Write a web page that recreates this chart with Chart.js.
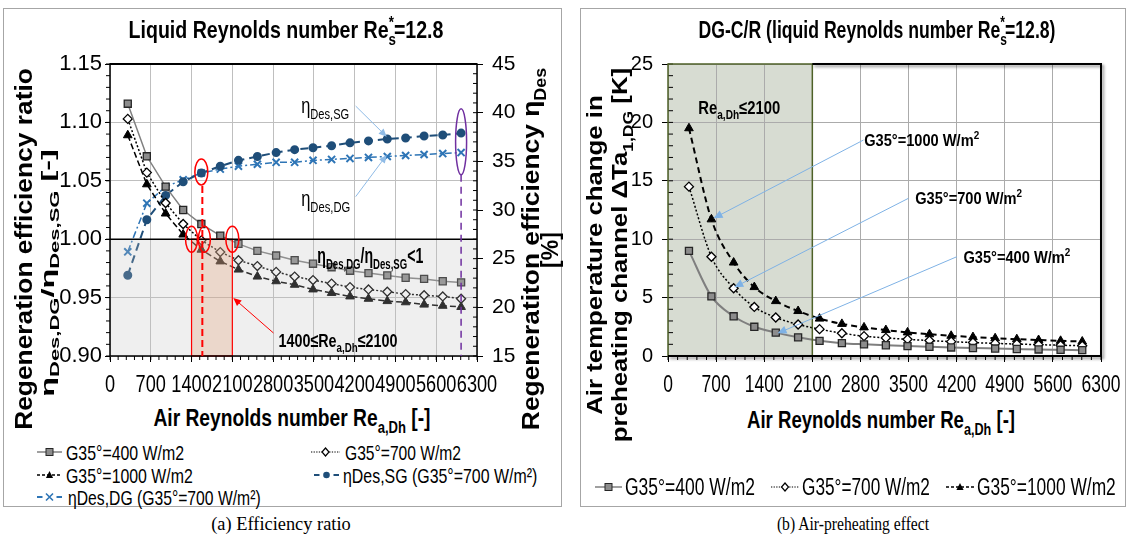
<!DOCTYPE html>
<html><head><meta charset="utf-8">
<script src="https://cdn.jsdelivr.net/npm/chart.js@4.4.1/dist/chart.umd.min.js"></script>
<style>
html,body{margin:0;padding:0;background:#fff;}
body{width:1127px;height:544px;position:relative;overflow:hidden;font-family:"Liberation Sans",Arial,sans-serif;color:#000;}
.panel{position:absolute;border:1px solid #a6a6a6;box-sizing:border-box;}
.t{position:absolute;white-space:nowrap;line-height:1;}
.t sub{font-size:68%;vertical-align:baseline;position:relative;top:0.42em;line-height:0;}
.t sup{font-size:68%;vertical-align:baseline;position:relative;top:-0.62em;line-height:0;}
.t sup.st{margin-left:-0.55em;}
canvas.ch{position:absolute;top:0;}
svg.sym{position:absolute;}
</style></head><body>
<div class="panel" style="left:3px;top:8px;width:559px;height:499px"></div>
<div class="panel" style="left:580px;top:8px;width:546px;height:499px"></div>
<canvas id="cL" class="ch" width="565" height="400" style="left:0"></canvas>
<canvas id="cR" class="ch" width="547" height="400" style="left:580px"></canvas>
<script>
// ---------------- DATA ----------------
const reAir = [305, 632, 955, 1256, 1568, 1893, 2205, 2530, 2852, 3170, 3485, 3804, 4120, 4437, 4760, 5075, 5392, 5712, 6027];
// (a) efficiency ratio eta_DG/eta_SG
const ratio400  = [1.116, 1.071, 1.045, 1.025, 1.013, 1.003, 0.996, 0.990, 0.986, 0.982, 0.979, 0.976, 0.973, 0.971, 0.969, 0.967, 0.966, 0.964, 0.963];
const ratio700  = [1.103, 1.057, 1.031, 1.013, 0.999, 0.989, 0.982, 0.977, 0.972, 0.968, 0.965, 0.962, 0.959, 0.957, 0.955, 0.953, 0.952, 0.951, 0.949];
const ratio1000 = [1.089, 1.047, 1.022, 1.004, 0.991, 0.981, 0.974, 0.968, 0.964, 0.961, 0.957, 0.954, 0.951, 0.949, 0.947, 0.946, 0.944, 0.943, 0.942];
// regeneration efficiency [%]
const etaSG = [23.3, 29.0, 31.5, 32.9, 33.8, 34.5, 35.1, 35.5, 35.9, 36.2, 36.4, 36.6, 36.9, 37.1, 37.3, 37.4, 37.6, 37.7, 37.9];
const etaDG = [25.7, 30.7, 32.4, 33.1, 33.8, 34.2, 34.5, 34.7, 34.9, 34.9, 35.1, 35.2, 35.3, 35.4, 35.5, 35.6, 35.7, 35.8, 35.9];
// (b) air temperature change [K]
const dT400  = [9.0, 5.1, 3.4, 2.5, 2.0, 1.6, 1.3, 1.1, 1.0, 0.92, 0.85, 0.79, 0.73, 0.68, 0.64, 0.60, 0.56, 0.53, 0.50];
const dT700  = [14.5, 8.5, 5.8, 4.2, 3.3, 2.7, 2.3, 1.95, 1.7, 1.55, 1.43, 1.32, 1.23, 1.15, 1.08, 1.02, 0.97, 0.92, 0.88];
const dT1000 = [19.5, 11.7, 8.0, 5.9, 4.7, 3.85, 3.2, 2.75, 2.45, 2.22, 2.02, 1.86, 1.73, 1.62, 1.52, 1.44, 1.37, 1.30, 1.24];
// ticks
const xTicks = [0, 700, 1400, 2100, 2800, 3500, 4200, 4900, 5600, 6300];
const xTickLabels = ['0','700','1400','2100','2800','3500','4200','4900','5600','6300'];
const ratioTicks = [0.90, 0.95, 1.00, 1.05, 1.10, 1.15];
const ratioTickLabels = ['0.90','0.95','1.00','1.05','1.10','1.15'];
const etaTicks = [15, 20, 25, 30, 35, 40, 45];
const etaTickLabels = ['15','20','25','30','35','40','45'];
const dTTicks = [0, 5, 10, 15, 20, 25];
const dTTickLabels = ['0','5','10','15','20','25'];

// ---------------- helpers ----------------
const FR = '"Liberation Sans",Arial,sans-serif';
Chart.defaults.font.family = FR;
Chart.defaults.color = '#000';
const pts = ys => reAir.map((x, i) => ({x, y: ys[i]}));
const setTicks = arr => s => { s.ticks = arr.map(v => ({value: v})); };

function rich(ctx, parts, x, y, o){
  const wt = o.bold ? 'bold ' : '';
  const segs = parts.map(([t, m]) => {
    const s = m === 'n' ? o.size : o.size * 0.68;
    ctx.font = wt + s + 'px ' + FR;
    return {t, m, s, w: ctx.measureText(t).width};
  });
  const W = segs.reduce((a, b) => a + b.w, 0);
  const sx = o.w ? o.w / W : 1;
  ctx.save(); ctx.translate(x, y); ctx.scale(sx, 1);
  ctx.textBaseline = 'alphabetic'; ctx.textAlign = 'left'; ctx.fillStyle = o.color || '#000';
  let cx = 0;
  for (const g of segs){
    ctx.font = wt + g.s + 'px ' + FR;
    const dy = g.m === 'sub' ? o.size * 0.28 : g.m === 'sup' ? -o.size * 0.42 : 0;
    ctx.fillText(g.t, cx, dy); cx += g.w;
  }
  ctx.restore();
}
function arrow(ctx, x1, y1, x2, y2, color, lw, L){
  ctx.save(); ctx.strokeStyle = color; ctx.fillStyle = color; ctx.lineWidth = lw; ctx.setLineDash([]);
  const a = Math.atan2(y2 - y1, x2 - x1), W = L * 0.45;
  ctx.beginPath(); ctx.moveTo(x1, y1); ctx.lineTo(x2 - L * 0.8 * Math.cos(a), y2 - L * 0.8 * Math.sin(a)); ctx.stroke();
  ctx.beginPath(); ctx.moveTo(x2, y2);
  ctx.lineTo(x2 - L * Math.cos(a) + W * Math.sin(a), y2 - L * Math.sin(a) - W * Math.cos(a));
  ctx.lineTo(x2 - L * Math.cos(a) - W * Math.sin(a), y2 - L * Math.sin(a) + W * Math.cos(a));
  ctx.closePath(); ctx.fill(); ctx.restore();
}
function seg(ctx, x1, y1, x2, y2){ ctx.beginPath(); ctx.moveTo(x1, y1); ctx.lineTo(x2, y2); ctx.stroke(); }
function ell(ctx, cx, cy, rx, ry){ ctx.beginPath(); ctx.ellipse(cx, cy, rx, ry, 0, 0, Math.PI * 2); ctx.stroke(); }
function minor(ctx, scale, from, to, step, fn){
  ctx.save(); ctx.strokeStyle = '#000'; ctx.lineWidth = 1;
  const n = Math.round((to - from) / step);
  for (let i = 0; i <= n; i++){ fn(scale.getPixelForValue(from + i * step)); }
  ctx.restore();
}
// condensed x tick labels drawn at the library's own tick positions
function xLabels(c, size, sx, yc){
  const ctx = c.ctx, sc = c.scales.x;
  ctx.save(); ctx.font = size + 'px ' + FR; ctx.fillStyle = '#000';
  ctx.textAlign = 'center'; ctx.textBaseline = 'middle';
  sc.ticks.forEach((t, i) => {
    ctx.save(); ctx.translate(sc.getPixelForValue(t.value), yc); ctx.scale(sx, 1);
    ctx.fillText(xTickLabels[i], 0, 0); ctx.restore();
  });
  ctx.restore();
}

// ---------------- (a) plugin ----------------
const annL = {id: 'annL', afterDatasetsDraw(c){
  const ctx = c.ctx, a = c.chartArea, sx = c.scales.x, sy = c.scales.y, s1 = c.scales.y1;
  const X = v => sx.getPixelForValue(v), Y = v => sy.getPixelForValue(v), Y1 = v => s1.getPixelForValue(v);
  ctx.save();
  ctx.fillStyle = 'rgba(190,190,190,0.25)';
  ctx.fillRect(a.left, Y(1), a.right - a.left, Y(0.9) - Y(1));
  ctx.fillStyle = 'rgba(225,160,120,0.30)';
  ctx.fillRect(X(1400), Y(1), X(2100) - X(1400), Y(0.9) - Y(1));
  ctx.strokeStyle = '#ff0000'; ctx.lineWidth = 1.2;
  ctx.strokeRect(X(1400), Y(1), X(2100) - X(1400), Y(0.9) - Y(1));
  ctx.strokeStyle = '#000'; ctx.lineWidth = 1.5; seg(ctx, a.left, Y(1), a.right, Y(1));
  ctx.lineWidth = 1.5; ctx.strokeRect(a.left, a.top, a.right - a.left, a.bottom - a.top);
  ctx.lineWidth = 2; seg(ctx, a.left, a.top, a.right, a.top);
  ctx.lineWidth = 1;
  minor(ctx, sx, 0, 6300, 140, p => seg(ctx, p, a.bottom, p, a.bottom + 4));
  minor(ctx, sy, 0.90, 1.15, 0.01, p => seg(ctx, a.left - 4, p, a.left, p));
  minor(ctx, s1, 15, 45, 1, p => seg(ctx, a.right - 4, p, a.right, p));
  ctx.strokeStyle = '#ff0000'; ctx.lineWidth = 2; ctx.setLineDash([7, 4]);
  seg(ctx, X(reAir[4]) + 1, Y1(etaSG[4]) + 13, X(reAir[4]) + 1, Y(0.9));
  ctx.setLineDash([]); ctx.lineWidth = 1.5;
  ell(ctx, X(reAir[4]), Y1(etaSG[4]) - 1, 6.5, 13);
  ell(ctx, X(1400), Y(1), 6, 13);
  ell(ctx, X(1620), Y(1), 6, 13);
  ell(ctx, X(2100), Y(1), 6.5, 13);
  ctx.strokeStyle = '#7030a0'; ctx.lineWidth = 1.5; ctx.setLineDash([7, 5]);
  seg(ctx, X(reAir[18]), Y1(37) + 33, X(reAir[18]), Y(0.9));
  ctx.setLineDash([]);
  ell(ctx, X(reAir[18]), Y1(37), 5.5, 33);
  rich(ctx, [['η','n'],['Des,SG','sub']], X(3282), Y1(39.97), {size: 22, w: 48});
  rich(ctx, [['η','n'],['Des,DG','sub']], X(3282), Y1(30.41), {size: 22, w: 49});
  arrow(ctx, X(4217), Y1(40.68), X(4750), Y1(37.53), '#8fbbe6', 1, 8);
  arrow(ctx, X(4217), Y1(31.37), X(4750), Y1(35.65), '#8fbbe6', 1, 8);
  rich(ctx, [['η','n'],['Des,DG','sub'],['/η','n'],['Des,SG','sub'],['<1','n']], X(3558), Y(0.9799), {size: 22, bold: true, w: 106});
  rich(ctx, [['1400≤Re','n'],['a,Dh','sub'],['≤2100','n']], X(2892), Y(0.908), {size: 19, bold: true, w: 119});
  arrow(ctx, X(2806), Y(0.9197), X(2117), Y(0.9497), '#ff0000', 1, 8);
  ctx.restore();
 },
 afterDraw(c){ xLabels(c, 23, 0.79, 386); }
};

// ---------------- (b) plugin ----------------
const annR = {id: 'annR',
 beforeDraw(c){
  const ctx = c.ctx, a = c.chartArea, sx = c.scales.x;
  ctx.save(); ctx.fillStyle = '#d7dcd2';
  ctx.fillRect(sx.getPixelForValue(0), a.top, sx.getPixelForValue(2100) - sx.getPixelForValue(0), a.bottom - a.top);
  ctx.restore();
 },
 afterDatasetsDraw(c){
  const ctx = c.ctx, a = c.chartArea, sx = c.scales.x, sy = c.scales.y;
  const X = v => sx.getPixelForValue(v), Y = v => sy.getPixelForValue(v);
  ctx.save();
  minor(ctx, sx, 0, 6300, 140, p => seg(ctx, p, a.bottom, p, a.bottom + 4));
  minor(ctx, sy, 0, 25, 1, p => seg(ctx, a.left, p, a.left + 5, p));
  ctx.strokeStyle = '#4f6228'; ctx.lineWidth = 1.5;
  ctx.strokeRect(X(0), a.top, X(2100) - X(0), a.bottom - a.top);
  ctx.save();
  ctx.shadowColor = 'rgba(0,0,0,0.45)'; ctx.shadowBlur = 3; ctx.shadowOffsetX = 2; ctx.shadowOffsetY = 2;
  ctx.strokeStyle = '#000'; ctx.lineWidth = 2;
  ctx.beginPath(); ctx.moveTo(X(2100), a.top); ctx.lineTo(a.right, a.top); ctx.lineTo(a.right, a.bottom); ctx.lineTo(a.left, a.bottom); ctx.stroke();
  ctx.restore();
  rich(ctx, [['Re','n'],['a,Dh','sub'],['≤2100','n']], X(440), Y(20.72), {size: 19, bold: true, w: 82});
  rich(ctx, [['G35°=1000 W/m','n'],['2','sup']], X(2854), Y(17.98), {size: 17, bold: true, w: 115});
  rich(ctx, [['G35°=700 W/m','n'],['2','sup']], X(3596), Y(13.01), {size: 17, bold: true, w: 107});
  rich(ctx, [['G35°=400 W/m','n'],['2','sup']], X(4298), Y(7.99), {size: 17, bold: true, w: 107});
  arrow(ctx, X(2844), Y(18.49), X(663), Y(11.79), '#7fb2e5', 1, 9);
  arrow(ctx, X(3498), Y(13.5), X(964), Y(5.88), '#7fb2e5', 1, 9);
  arrow(ctx, X(4202), Y(8.5), X(1594), Y(1.94), '#7fb2e5', 1, 9);
  ctx.restore();
 },
 afterDraw(c){ xLabels(c, 23, 0.76, 386); }
};

const baseOpts = (pad) => ({
  responsive: false, animation: false, devicePixelRatio: 1, events: [],
  layout: {padding: pad, autoPadding: false},
  plugins: {legend: {display: false}, tooltip: {enabled: false}}
});
const xAxisCfg = (gridColor) => ({
  type: 'linear', min: 0, max: 6300, afterBuildTicks: setTicks(xTicks),
  ticks: {display: false, maxRotation: 0, minRotation: 0, autoSkip: false},
  grid: {color: gridColor, lineWidth: 1, tickLength: 6, tickColor: '#000'},
  border: {display: false},
  afterFit: s => { s.height = 44; }
});

// ---------------- (a) chart ----------------
new Chart(document.getElementById('cL'), {
  type: 'line',
  data: {datasets: [
    {label: 'G35°=400 W/m2', data: pts(ratio400), yAxisID: 'y', borderColor: '#808080', borderWidth: 1.5,
     pointStyle: 'rect', pointRadius: 5, pointBackgroundColor: '#8c8c8c', pointBorderColor: '#262626', pointBorderWidth: 1.3},
    {label: 'G35°=700 W/m2', data: pts(ratio700), yAxisID: 'y', borderColor: '#000', borderWidth: 1.5, borderDash: [2, 2],
     pointStyle: 'rectRot', pointRadius: 4.5, pointBackgroundColor: '#fff', pointBorderColor: '#000', pointBorderWidth: 1.3},
    {label: 'G35°=1000 W/m2', data: pts(ratio1000), yAxisID: 'y', borderColor: '#000', borderWidth: 1.5, borderDash: [6, 3],
     pointStyle: 'triangle', pointRadius: 5, pointBackgroundColor: '#000', pointBorderColor: '#000', pointBorderWidth: 1},
    {label: 'ηDes,SG (G35°=700 W/m²)', data: pts(etaSG), yAxisID: 'y1', borderColor: '#1f4e79', borderWidth: 2, borderDash: [8, 5],
     pointStyle: 'circle', pointRadius: 3.5, pointBackgroundColor: '#1f4e79', pointBorderColor: '#1f4e79'},
    {label: 'ηDes,DG (G35°=700 W/m²)', data: pts(etaDG), yAxisID: 'y1', borderColor: '#2e75b6', borderWidth: 1.5, borderDash: [7, 3, 2, 3],
     pointStyle: 'crossRot', pointRadius: 5, pointBorderColor: '#2e75b6', pointBorderWidth: 2}
  ]},
  options: Object.assign(baseOpts({top: 64, left: 0, right: 0, bottom: 0}), {
    scales: {
      x: xAxisCfg('#bfbfbf'),
      y: {position: 'left', min: 0.9, max: 1.15, afterBuildTicks: setTicks(ratioTicks),
          ticks: {font: {size: 22}, padding: 3, callback: (v, i) => ratioTickLabels[i]},
          grid: {color: '#bfbfbf', tickLength: 5, tickColor: '#000'}, border: {display: false},
          afterFit: s => { s.width = 110; }},
      y1: {position: 'right', min: 15, max: 45, afterBuildTicks: setTicks(etaTicks),
          ticks: {font: {size: 21}, padding: 9, callback: (v, i) => etaTickLabels[i]},
          grid: {drawOnChartArea: false, tickLength: 6, tickColor: '#000'}, border: {display: false},
          afterFit: s => { s.width = 88; }}
    }
  }),
  plugins: [annL]
});

// ---------------- (b) chart ----------------
new Chart(document.getElementById('cR'), {
  type: 'line',
  data: {datasets: [
    {label: 'G35°=400 W/m2', data: pts(dT400), borderColor: '#7f7f7f', borderWidth: 2, cubicInterpolationMode: 'monotone',
     pointStyle: 'rect', pointRadius: 5, pointBackgroundColor: '#8c8c8c', pointBorderColor: '#262626', pointBorderWidth: 1.3},
    {label: 'G35°=700 W/m2', data: pts(dT700), borderColor: '#000', borderWidth: 1.5, borderDash: [2, 2], cubicInterpolationMode: 'monotone',
     pointStyle: 'rectRot', pointRadius: 4.5, pointBackgroundColor: '#fff', pointBorderColor: '#000', pointBorderWidth: 1.3},
    {label: 'G35°=1000 W/m2', data: pts(dT1000), borderColor: '#000', borderWidth: 2, borderDash: [6, 4], cubicInterpolationMode: 'monotone',
     pointStyle: 'triangle', pointRadius: 5, pointBackgroundColor: '#000', pointBorderColor: '#000', pointBorderWidth: 1}
  ]},
  options: Object.assign(baseOpts({top: 64, left: 0, right: 26, bottom: 0}), {
    scales: {
      x: xAxisCfg('#ababab'),
      y: {position: 'left', min: 0, max: 25, afterBuildTicks: setTicks(dTTicks),
          ticks: {font: {size: 20}, padding: 9, callback: (v, i) => dTTickLabels[i]},
          grid: {color: '#ababab', tickLength: 6, tickColor: '#000'}, border: {display: false},
          afterFit: s => { s.width = 88; }}
    }
  }),
  plugins: [annR]
});

// ---------------- HTML text ----------------
function addText(o){
  const d = document.createElement('div');
  d.className = 't'; d.innerHTML = o.html;
  d.style.left = o.x + 'px'; d.style.top = o.y + 'px'; d.style.fontSize = o.size + 'px';
  d.style.fontWeight = o.bold ? 'bold' : 'normal';
  if (o.serif) d.style.fontFamily = '"Liberation Serif","Times New Roman",serif';
  document.body.appendChild(d);
  const s = o.w ? o.w / d.offsetWidth : 1;
  if (o.anchor === 'left'){ d.style.transformOrigin = '0 50%'; d.style.transform = 'translateY(-50%) scaleX(' + s + ')'; }
  else d.style.transform = 'translate(-50%,-50%)' + (o.rot ? ' rotate(-90deg)' : '') + ' scaleX(' + s + ')';
}
const RE_S = 'Re<sub>s</sub><sup class="st">*</sup>';
addText({x: 286, y: 30, size: 24, bold: 1, w: 315, html: 'Liquid Reynolds number ' + RE_S + '=12.8'});
addText({x: 877, y: 30, size: 24, bold: 1, w: 357, html: 'DG-C/R (liquid Reynolds number ' + RE_S + '=12.8)'});
addText({x: 292, y: 418, size: 24, bold: 1, w: 277, html: 'Air Reynolds number Re<sub>a,Dh</sub> [-]'});
addText({x: 881, y: 420, size: 24, bold: 1, w: 268, html: 'Air Reynolds number Re<sub>a,Dh</sub> [-]'});
addText({x: 24, y: 249, size: 23, bold: 1, w: 362, rot: 1, html: 'Regeneration efficiency ratio'});
addText({x: 47, y: 273, size: 19, bold: 1, w: 247, rot: 1, html: 'η<sub>Des,DG</sub>/η<sub>Des,SG</sub> [-]'});
addText({x: 531, y: 249, size: 23, bold: 1, w: 362, rot: 1, html: 'Regeneratiton efficiency η<sub>Des</sub>'});
addText({x: 550, y: 250, size: 23, bold: 1, w: 36, rot: 1, html: '[%]'});
addText({x: 595, y: 255, size: 22, bold: 1, w: 320, rot: 1, html: 'Air temperature change in'});
addText({x: 620, y: 255, size: 22, bold: 1, w: 374, rot: 1, html: 'preheating channel ΔTa<sub>1,DG</sub> [K]'});
addText({x: 281, y: 524, size: 18, serif: 1, w: 140, html: '(a) Efficiency ratio'});
addText({x: 853, y: 524, size: 18, serif: 1, w: 152, html: '(b) Air-preheating effect'});

function symSvg(t, x1, x2, y){
  const w = x2 - x1, c = w / 2, m = 7;
  let s = '';
  const ln = (col, sw, dash) => `<line x1="0" y1="${m}" x2="${w}" y2="${m}" stroke="${col}" stroke-width="${sw}"${dash ? ' stroke-dasharray="' + dash + '"' : ''}/>`;
  if (t === 'sq') s = ln('#808080', 1.5) + `<rect x="${c - 3.5}" y="${m - 3.5}" width="7" height="7" fill="#8c8c8c" stroke="#262626" stroke-width="1"/>`;
  if (t === 'dia') s = ln('#000', 1, '1.3,1.3') + `<path d="M${c} ${m - 4}L${c + 3.5} ${m}L${c} ${m + 4}L${c - 3.5} ${m}Z" fill="#fff" stroke="#000" stroke-width="1.2"/>`;
  if (t === 'tri') s = ln('#000', 1.3, '3,2') + `<path d="M${c} ${m - 4}L${c + 3.6} ${m + 3}L${c - 3.6} ${m + 3}Z" fill="#000"/>`;
  if (t === 'dot') s = `<line x1="0" y1="${m}" x2="${c - 7}" y2="${m}" stroke="#1f4e79" stroke-width="2"/><line x1="${c + 7}" y1="${m}" x2="${w}" y2="${m}" stroke="#1f4e79" stroke-width="2"/><circle cx="${c}" cy="${m}" r="3.3" fill="#1f4e79"/>`;
  if (t === 'cross') s = `<line x1="0" y1="${m}" x2="${c - 7}" y2="${m}" stroke="#2e75b6" stroke-width="2"/><line x1="${c + 7}" y1="${m}" x2="${w}" y2="${m}" stroke="#2e75b6" stroke-width="2"/><path d="M${c - 3.5} ${m - 3.5}L${c + 3.5} ${m + 3.5}M${c + 3.5} ${m - 3.5}L${c - 3.5} ${m + 3.5}" stroke="#2e75b6" stroke-width="1.6"/>`;
  const el = document.createElementNS('http://www.w3.org/2000/svg', 'svg');
  el.setAttribute('class', 'sym'); el.setAttribute('width', w); el.setAttribute('height', 14);
  el.style.left = x1 + 'px'; el.style.top = (y - 7) + 'px';
  el.innerHTML = s; document.body.appendChild(el);
}
const legendItems = [
  ['sq', 37, 62, 452, 66, 118, 'G35°=400 W/m2', 21],
  ['dia', 311, 340, 452, 345, 116, 'G35°=700 W/m2', 21],
  ['tri', 37, 62, 475, 66, 127, 'G35°=1000 W/m2', 21],
  ['dot', 314, 339, 475, 343, 194, 'ηDes,SG (G35°=700 W/m²)', 21],
  ['cross', 37, 62, 497, 68, 193, 'ηDes,DG (G35°=700 W/m²)', 21],
  ['sq', 595, 622, 487, 625, 130, 'G35°=400 W/m2', 23],
  ['dia', 771, 799, 487, 802, 128, 'G35°=700 W/m2', 23],
  ['tri', 946, 974, 487, 977, 139, 'G35°=1000 W/m2', 23]
];
legendItems.forEach(([t, x1, x2, y, tx, w, txt, sz]) => {
  symSvg(t, x1, x2, y);
  addText({x: tx, y: y, size: sz, w: w, anchor: 'left', html: txt});
});
</script>
</body></html>
